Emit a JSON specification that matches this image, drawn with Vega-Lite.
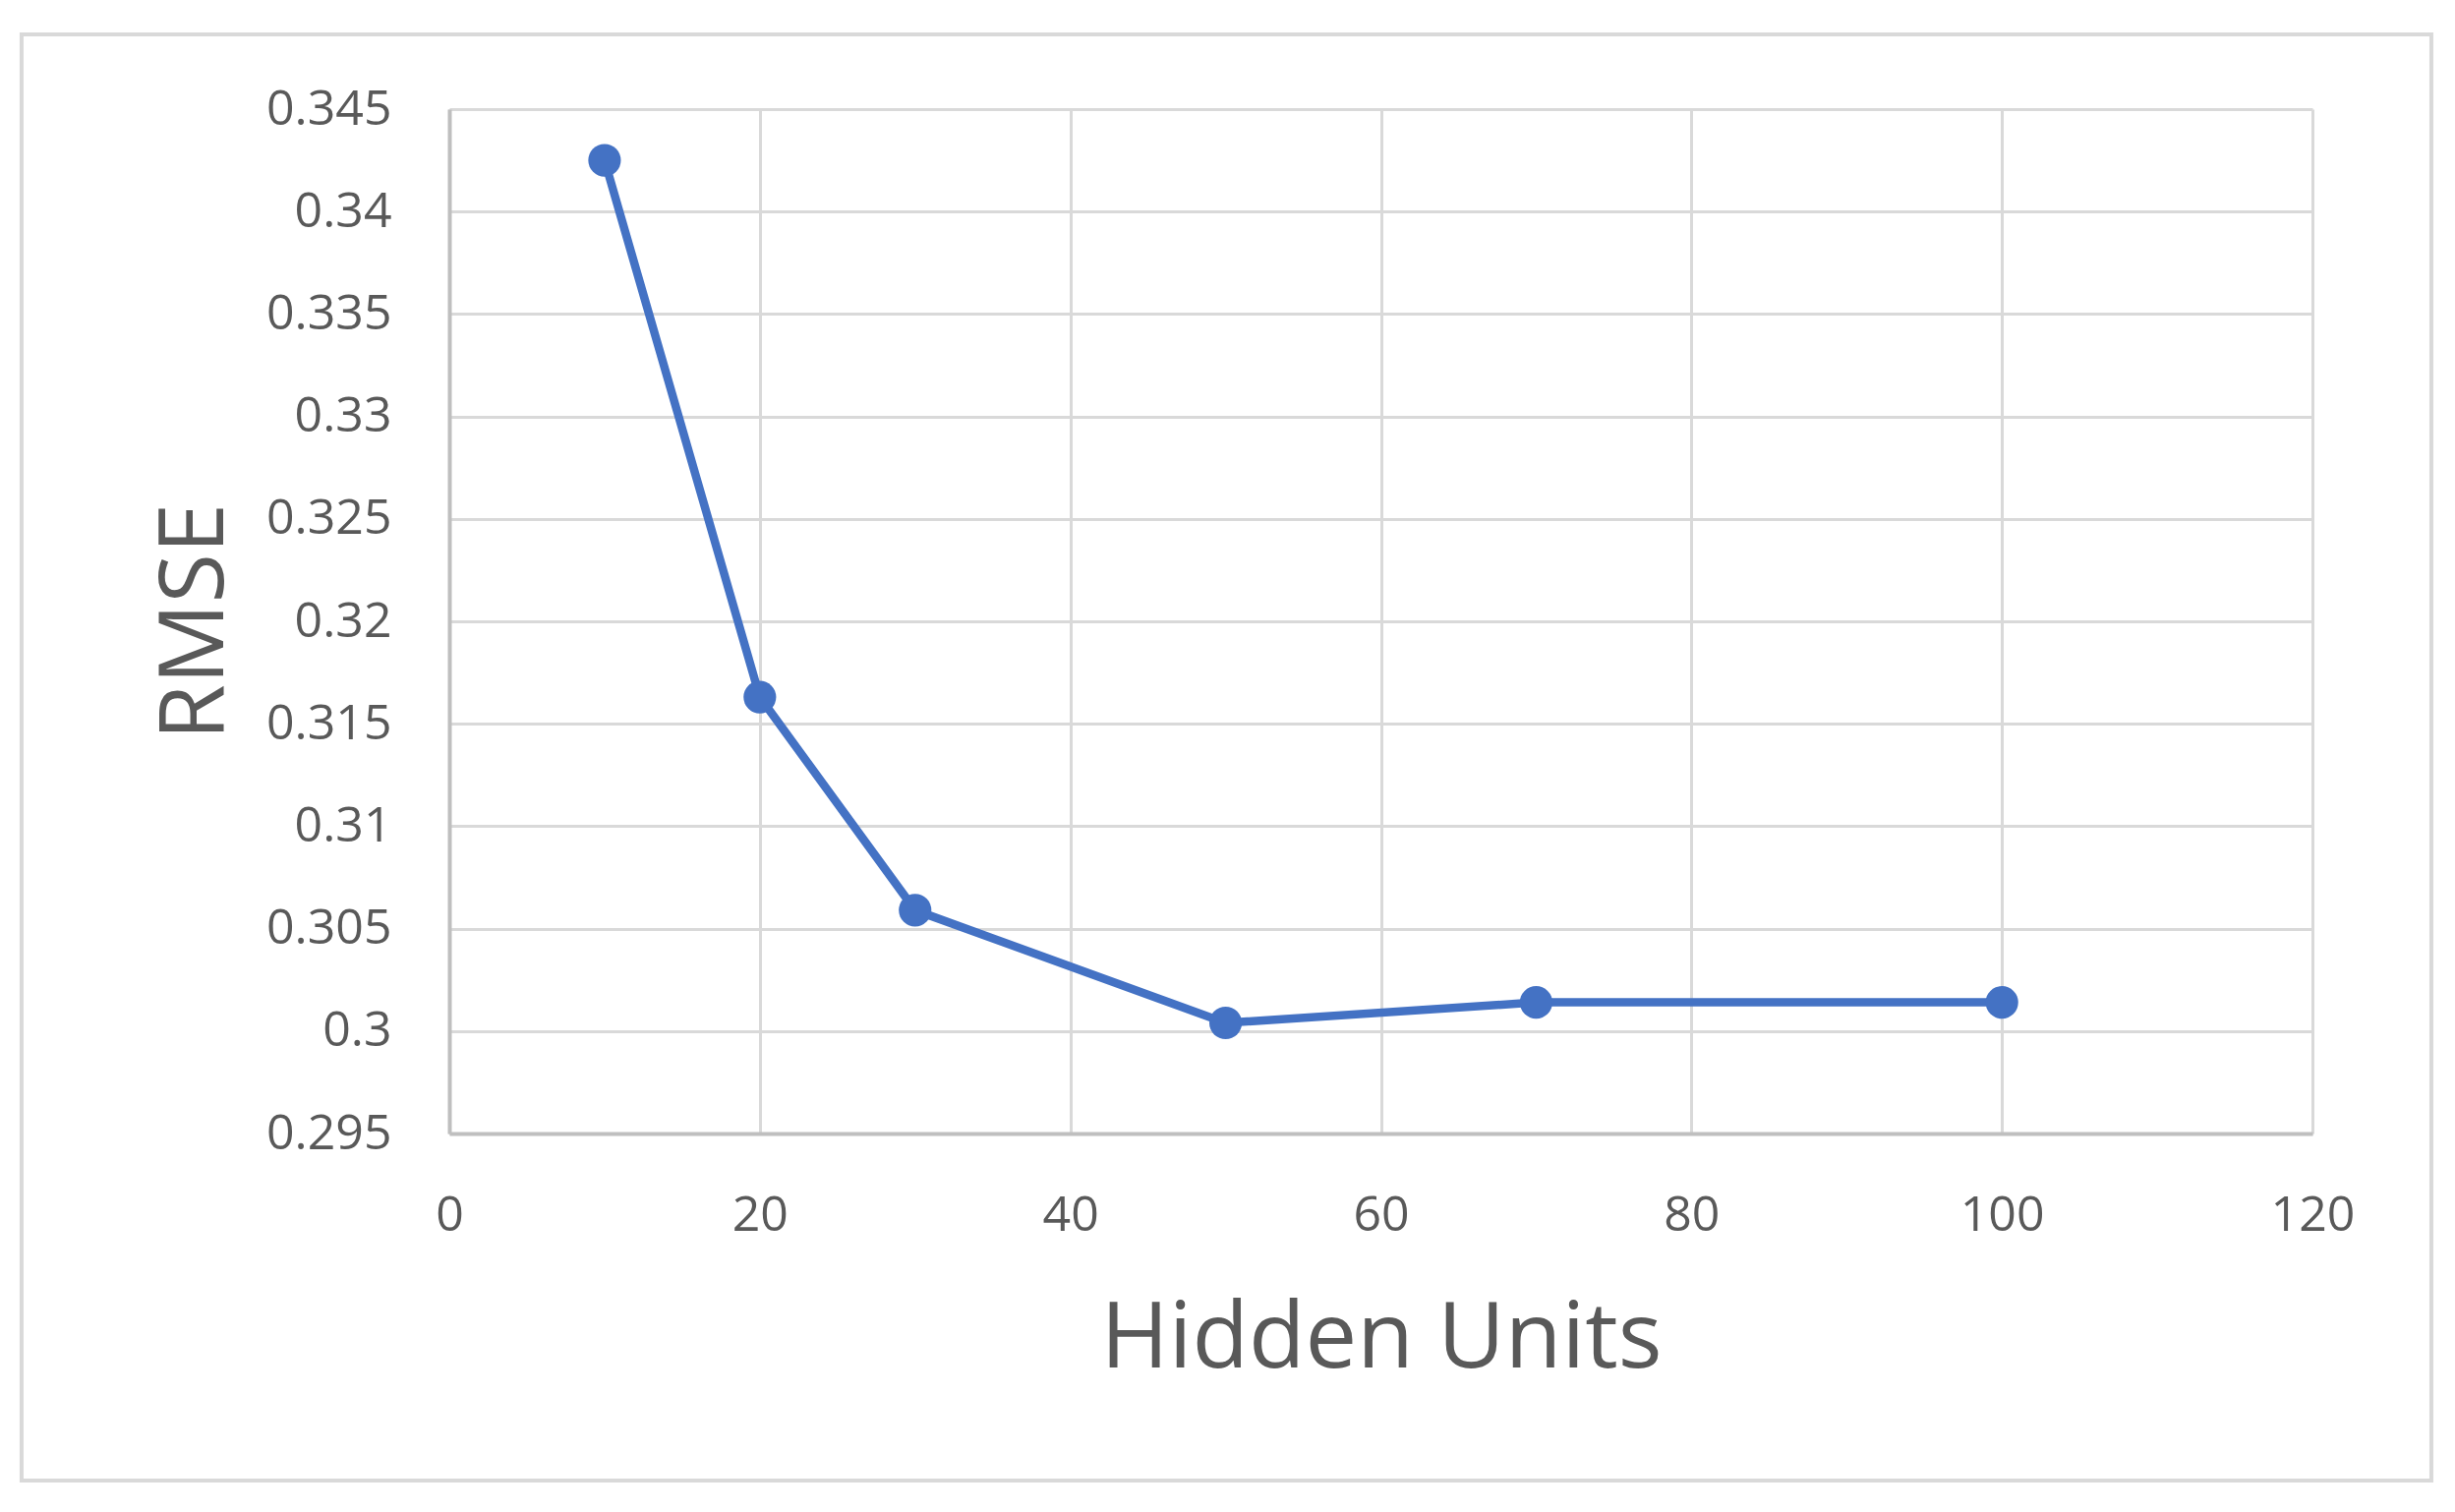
{
  "$schema": "https://vega.github.io/schema/vega-lite/v6.json",
  "autosize": {"type": "none"},
  "width": 1895,
  "height": 1042,
  "padding": {"left": 457, "top": 111, "right": 145, "bottom": 385},
  "background": "white",
  "config": {
    "view": {"stroke": null},
    "font": "Open Sans"
  },
  "layer": [
    {
      "data": {"values": [{"x0": -27.55, "x1": 127.66, "y0": 0.27806, "y1": 0.34865}]},
      "mark": {"type": "rect", "fill": null, "stroke": "#d9d9d9", "strokeWidth": 4, "clip": false},
      "encoding": {
        "x": {"field": "x0", "type": "quantitative", "scale": {"domain": [0, 120], "nice": false}},
        "x2": {"field": "x1"},
        "y": {"field": "y0", "type": "quantitative", "scale": {"domain": [0.295, 0.345], "nice": false, "zero": false}},
        "y2": {"field": "y1"}
      }
    },
    {
      "data": {"values": [
        {"units": 10, "rmse": 0.3425},
        {"units": 20, "rmse": 0.3163},
        {"units": 30, "rmse": 0.3059},
        {"units": 50, "rmse": 0.3004},
        {"units": 70, "rmse": 0.3014},
        {"units": 100, "rmse": 0.3014}
      ]},
      "mark": {"type": "line", "color": "#4472C4", "strokeWidth": 8.5, "point": {"filled": true, "size": 1100, "color": "#4472C4", "opacity": 1}},
      "encoding": {
        "x": {
          "field": "units", "type": "quantitative",
          "scale": {"domain": [0, 120], "nice": false},
          "axis": {
            "values": [0, 20, 40, 60, 80, 100, 120],
            "title": "Hidden Units",
            "grid": true, "gridColor": "#d9d9d9", "gridWidth": 3,
            "domainColor": "#bfbfbf", "domainWidth": 4,
            "ticks": false,
            "labelFlush": false, "labelBound": false, "labelOverlap": false,
            "labelFontSize": 50, "labelColor": "#595959", "labelFont": "Open Sans", "labelPadding": 58,
            "titleFontSize": 94, "titleFontWeight": "normal", "titleColor": "#595959", "titleFont": "Open Sans", "titlePadding": 55
          }
        },
        "y": {
          "field": "rmse", "type": "quantitative",
          "scale": {"domain": [0.295, 0.345], "nice": false, "zero": false},
          "axis": {
            "values": [0.295, 0.3, 0.305, 0.31, 0.315, 0.32, 0.325, 0.33, 0.335, 0.34, 0.345],
            "format": "~g",
            "title": "RMSE",
            "grid": true, "gridColor": "#d9d9d9", "gridWidth": 3,
            "domainColor": "#bfbfbf", "domainWidth": 4,
            "ticks": false,
            "labelFlush": false, "labelOverlap": false,
            "labelFontSize": 50, "labelColor": "#595959", "labelFont": "Open Sans", "labelPadding": 59,
            "titleFontSize": 92, "titleFontWeight": "normal", "titleColor": "#595959", "titleFont": "Open Sans", "titlePadding": 25
          }
        }
      }
    }
  ]
}
